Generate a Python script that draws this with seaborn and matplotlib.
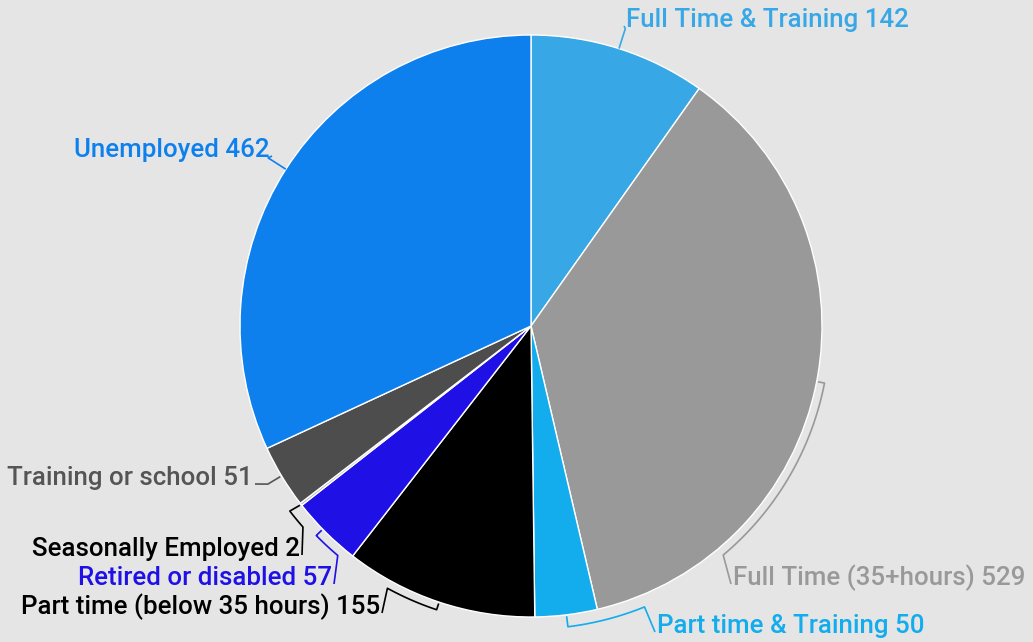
import numpy as np
import matplotlib
matplotlib.use("Agg")
import matplotlib.pyplot as plt
import seaborn as sns

# data, clockwise from the top
labels = ["Full Time & Training", "Full Time (35+hours)", "Part time & Training",
          "Part time (below 35 hours)", "Retired or disabled", "Seasonally Employed",
          "Training or school", "Unemployed"]
values = [142, 529, 50, 155, 57, 2, 51, 462]
colors = ["#37A7E5", "#999999", "#13ACEC", "#000000", "#1F10E6", "#B5B5B5",
          "#4D4D4D", "#0E80EE"]
label_colors = ["#37A7E5", "#999999", "#13ACEC", "#000000", "#1F10E6", "#000000",
                "#555555", "#0E80EE"]

sns.set_theme(style="white")
plt.rcParams["font.family"] = ["Roboto", "DejaVu Sans"]

W, H = 1033, 642
CX, CY, R = 531, 326, 291  # pie centre / radius in pixels

fig = plt.figure(figsize=(W / 100, H / 100), dpi=100)
fig.patch.set_facecolor("#E5E5E5")
ax = fig.add_axes([0, 0, 1, 1])
ax.set_facecolor("#E5E5E5")

ax.pie(values, colors=colors, startangle=90, counterclock=False, radius=1,
       wedgeprops=dict(edgecolor="white", linewidth=1))
ax.set_xlim(-CX / R, (W - CX) / R)
ax.set_ylim(-(H - CY) / R, CY / R)
ax.set_aspect("equal")
ax.axis("off")


def px(x, y):
    # pixel coords -> data coords
    return (x - CX) / R, (CY - y) / R


def pol(theta, rad):
    t = np.radians(theta)
    return rad * np.sin(t), rad * np.cos(t)


# leader layout: (tick start angle, arc start, arc end, arc radius px, text pos px, align)
leaders = [
    (None, 17.6, 17.6, 312, (626, 20), "left"),
    (101, 101, 140, 299, (733, 578), "left"),
    (173, 173, 158, 303, (657, 626), "left"),
    (198.4, 198.4, 208.7, 299, (380, 607), "right"),
    (225.7, 225.7, 220.1, 300, (332, 578), "right"),
    (232.2, 232.5, 228.6, 304, (300, 549), "right"),
    (239, 239, 239, 307, (253, 478), "right"),
    (None, 302.6, 302.6, 312, (270, 150), "right"),
]

for i, (t0, a1, a2, rr, (tx, ty), ha) in enumerate(leaders):
    c = label_colors[i]
    ro = rr / R
    pts = []
    if t0 is not None:
        pts.append(pol(t0, 1.005))
    else:
        pts.append(pol(a1, 1.0))
    angs = np.linspace(a1, a2, 40)
    for a in angs:
        pts.append(pol(a, ro))
    ex, ey = px(tx + (-2 if ha == "left" else 2), ty + 6)
    pts.append((ex, ey))
    pts = np.array(pts)
    ax.plot(pts[:, 0], pts[:, 1], color=c, lw=1.2, solid_capstyle="butt")
    lx, ly = px(tx, ty)
    ax.text(lx, ly, f"{labels[i]} {values[i]}", color=c, fontsize=18.6,
            fontweight="medium", ha=ha, va="center")

fig.savefig("out.png", dpi=100, facecolor=fig.get_facecolor())
